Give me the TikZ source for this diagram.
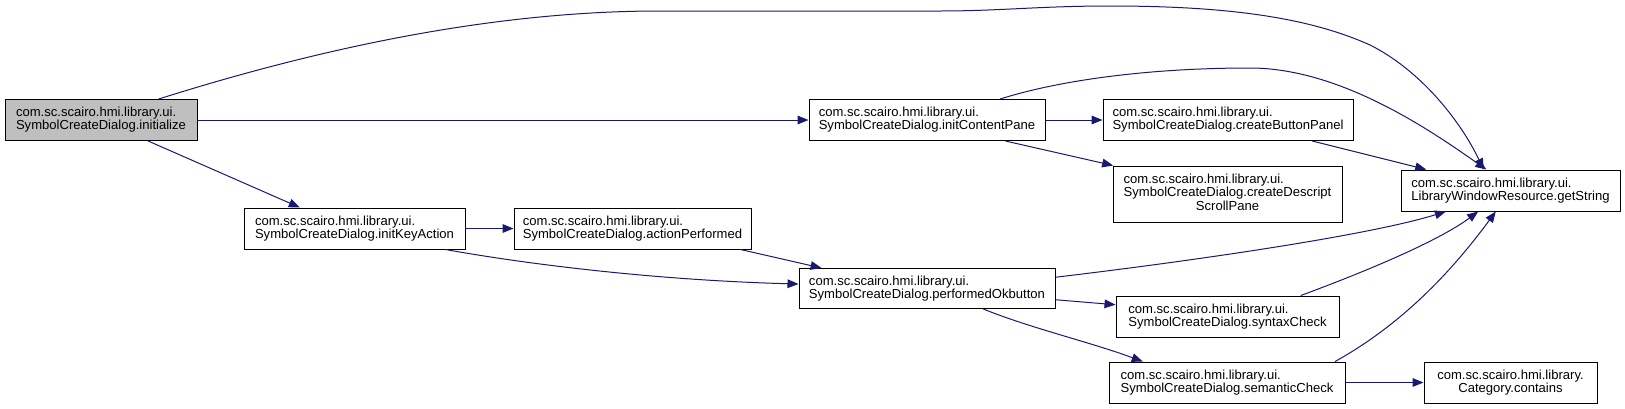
\documentclass[tikz,border=0pt]{standalone}
\usepackage{fontspec}
\setmainfont{Liberation Sans}
\usetikzlibrary{arrows.meta}
\definecolor{callblue}{HTML}{191970}
\definecolor{rootgray}{HTML}{BFBFBF}
\newcommand{\fnfont}{\fontsize{9.8}{9.75}\selectfont}

\begin{document}
\begin{tikzpicture}[x=0.75pt, y=-0.75pt,
        fn/.style={draw=black, line width=0.75pt, fill=white, align=left, font=\fnfont,
            inner sep=0pt, minimum height=30.75pt},
        call/.style={draw=callblue, line width=0.75pt, -{Triangle[length=8.25pt, width=6.5pt]}}]
    \useasboundingbox (0,0) rectangle (1625,408);
    \node[fn, fill=rootgray, minimum width=144pt] (init) at (101,120) {com.sc.scairo.hmi.library.ui.\\SymbolCreateDialog.initialize};
    \node[fn, minimum width=165.75pt] (keyact) at (354.5,228.5) {com.sc.scairo.hmi.library.ui.\\SymbolCreateDialog.initKeyAction};
    \node[fn, minimum width=177.75pt] (actperf) at (632.5,228.5) {com.sc.scairo.hmi.library.ui.\\SymbolCreateDialog.actionPerformed};
    \node[fn, minimum width=177pt] (content) at (927,120) {com.sc.scairo.hmi.library.ui.\\SymbolCreateDialog.initContentPane};
    \node[fn, minimum width=192pt, minimum height=30pt] (okbtn) at (927,288.5) {com.sc.scairo.hmi.library.ui.\\SymbolCreateDialog.performedOkbutton};
    \node[fn, minimum width=187.5pt] (btnpanel) at (1228,120) {com.sc.scairo.hmi.library.ui.\\SymbolCreateDialog.createButtonPanel};
    \node[fn, minimum width=171.75pt, minimum height=42pt] (descpane) at (1227.5,194) {\begin{tabular}{@{}l@{}}com.sc.scairo.hmi.library.ui.\\SymbolCreateDialog.createDescript\\\multicolumn{1}{@{}c@{}}{ScrollPane}\end{tabular}};
    \node[fn, minimum width=164.25pt] (getstr) at (1510.5,190.5) {com.sc.scairo.hmi.library.ui.\\LibraryWindowResource.getString};
    \node[fn, minimum width=167.25pt] (syntax) at (1227.5,316.5) {com.sc.scairo.hmi.library.ui.\\SymbolCreateDialog.syntaxCheck};
    \node[fn, minimum width=177pt] (semantic) at (1227,382.5) {com.sc.scairo.hmi.library.ui.\\SymbolCreateDialog.semanticCheck};
    \node[fn, align=center, minimum width=129.75pt] (contains) at (1510.5,382.5) {com.sc.scairo.hmi.library.\\Category.contains};

    \draw[call] (init.20) .. controls (330,45) and (500,11) .. (660,11) -- (940,11)
        .. controls (1000,11) and (1040,6) .. (1110,6) .. controls (1230,6) and (1310,18) .. (1370,45)
        .. controls (1420,70) and (1460,120) .. (getstr.142);
    \draw[call] (init.east) -- (content.west);
    \draw[call] (init.-24) -- (keyact.159);
    \draw[call] (keyact.east) -- (actperf.west);
    \draw[call] (keyact.-13.5) .. controls (520,263) and (650,280) .. (okbtn.178);
    \draw[call] (actperf.-11.5) -- (okbtn.169);
    \draw[call] (content.16.3) .. controls (1060,80) and (1150,68) .. (1250,68)
        .. controls (1340,68) and (1430,130) .. (getstr.139);
    \draw[call] (content.east) -- (btnpanel.west);
    \draw[call] (content.-15) -- (descpane.166);
    \draw[call] (btnpanel.-14) -- (getstr.166);
    \draw[call] (okbtn.5.6) .. controls (1200,260) and (1370,235) .. (getstr.-162);
    \draw[call] (okbtn.-5) -- (syntax.174.6);
    \draw[call] (okbtn.-20) .. controls (1030,328) and (1090,342) .. (semantic.166);
    \draw[call] (syntax.16) .. controls (1370,270) and (1440,240) .. (getstr.-147);
    \draw[call] (semantic.11.5) .. controls (1410,320) and (1460,260) .. (getstr.-125);
    \draw[call] (semantic.east) -- (contains.west);
\end{tikzpicture}
\end{document}
